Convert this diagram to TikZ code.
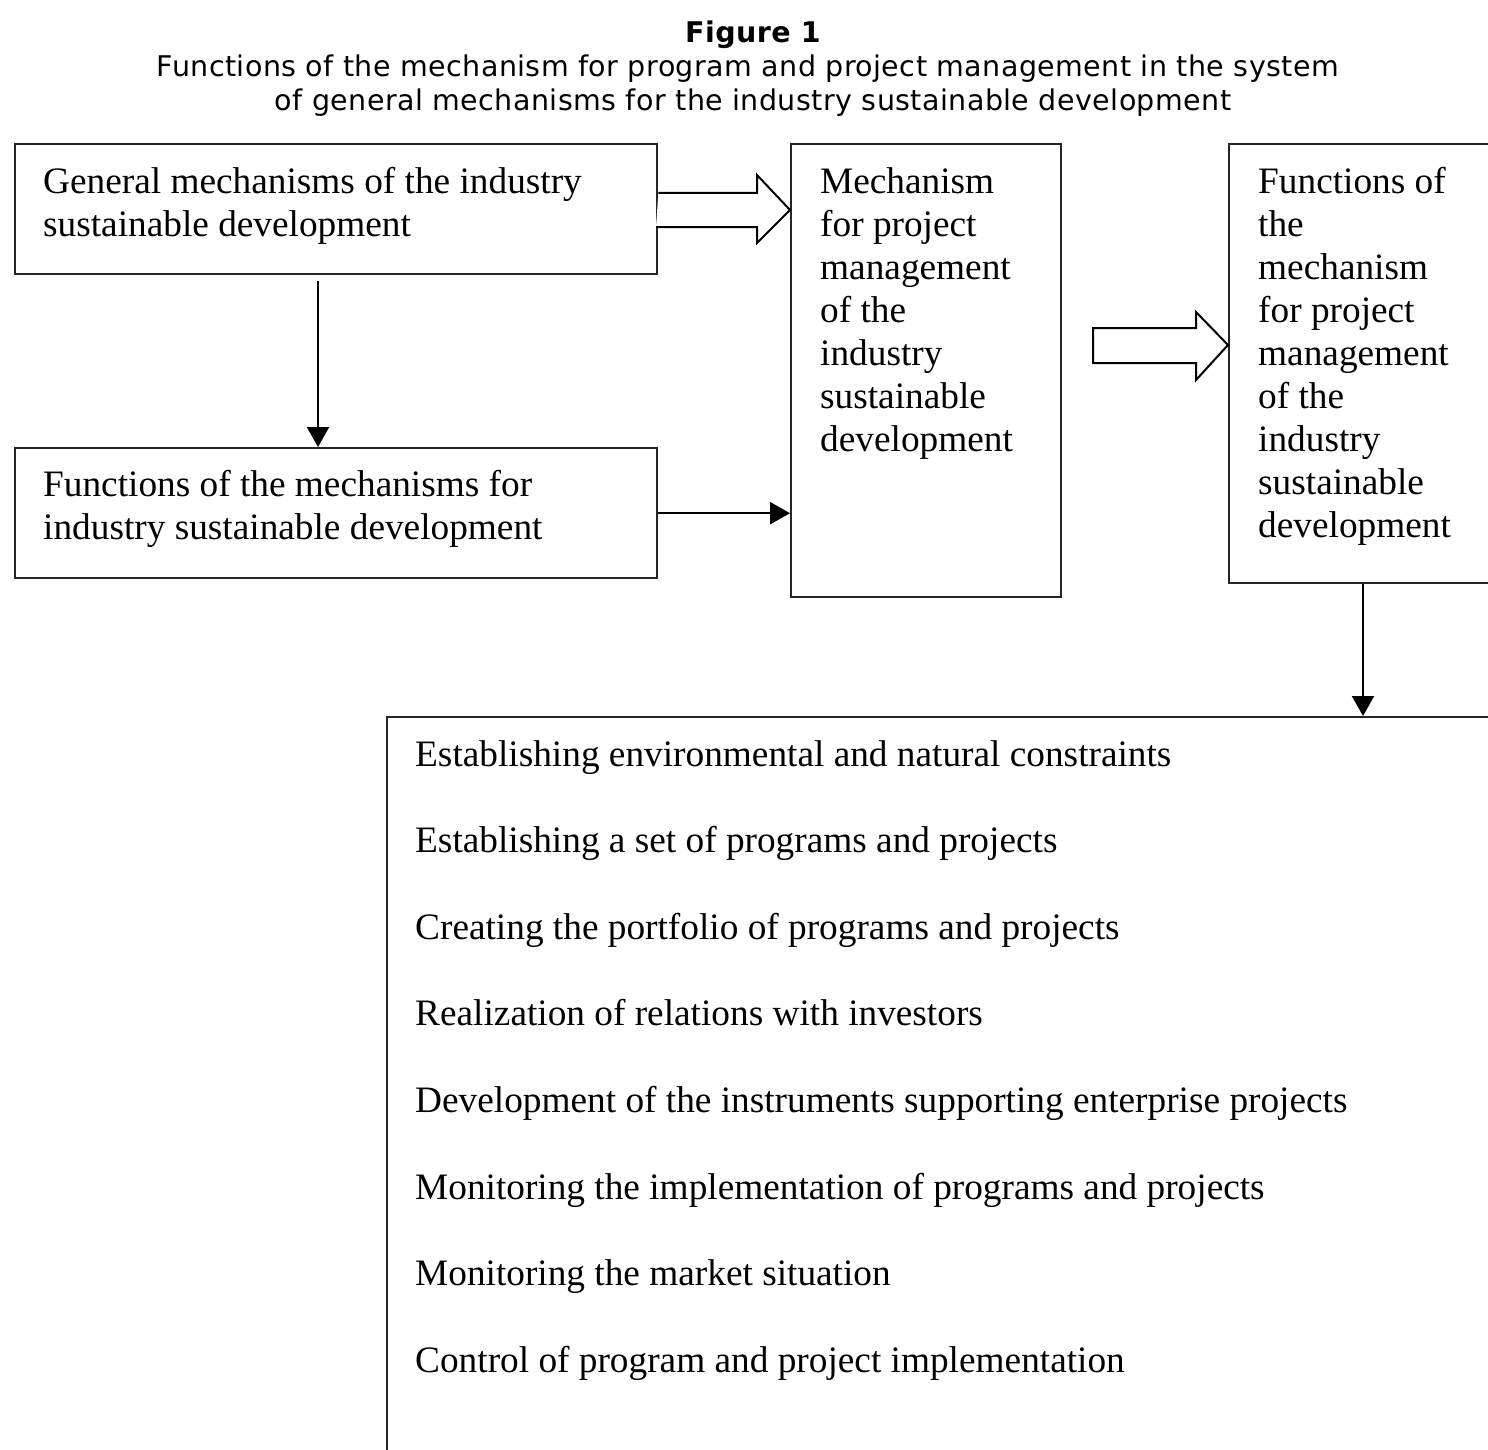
\documentclass[tikz,border=0pt]{standalone}
\usepackage{fontspec}
\setmainfont{Liberation Serif}
\newfontfamily\titlefont[LetterSpace=1.5]{DejaVu Sans}
\usetikzlibrary{calc,arrows.meta}
\begin{document}
\begin{tikzpicture}[x=1pt,y=-1pt,
  box/.style={draw=black!85, line width=2.4pt, anchor=north west, inner sep=0pt},
  boxtext/.style={anchor=north west, inner sep=0pt, align=left, font=\fontsize{37.3}{43}\selectfont},
  arr/.style={draw=black, line width=2.2pt, -{Triangle[length=20pt,width=22pt]}},
  hollow/.style={draw=black, line width=2pt, fill=white, line join=miter},
  ttl/.style={inner sep=0pt, align=center}]
\useasboundingbox (0,0) rectangle (1488,1450);
\begin{scope}
\clip (0,0) rectangle (1488,1450);
% title
\node[ttl, font=\titlefont\bfseries\fontsize{28.5}{34}\selectfont, anchor=base] (fig) at (753,43) {Figure 1};
\node[ttl, font=\titlefont\fontsize{28.5}{34}\selectfont, anchor=base] (cap1) at (748,77) {Functions of the mechanism for program and project management in the system};
\node[ttl, font=\titlefont\fontsize{28.5}{34}\selectfont, anchor=base] (cap2) at (753,111) {of general mechanisms for the industry sustainable development};
% boxes
\node[box, minimum width=642pt, minimum height=130pt] (gen) at (14,143) {};
\node[box, minimum width=642pt, minimum height=130pt] (fun) at (14,447) {};
\node[box, minimum width=270pt, minimum height=453pt] (mech) at (790,143) {};
\node[box, minimum width=300pt, minimum height=439pt] (fmech) at (1228,143) {};
\node[box, minimum width=1200pt, minimum height=800pt] (list) at (386,716) {};
% texts
\node[boxtext] (gent) at (43,167) {General mechanisms of the industry\\sustainable development};
\node[boxtext] (funt) at (43,470) {Functions of the mechanisms for\\industry sustainable development};
\node[boxtext] (mecht) at (820,167) {Mechanism\\for project\\management\\of the\\industry\\sustainable\\development};
\node[boxtext] (fmecht) at (1258,167) {Functions of\\the\\mechanism\\for project\\management\\of the\\industry\\sustainable\\development};
\node[boxtext, font=\fontsize{37.3}{86.6}\selectfont] (listt) at (415,740) {Establishing environmental and natural constraints\\
Establishing a set of programs and projects\\
Creating the portfolio of programs and projects\\
Realization of relations with investors\\
Development of the instruments supporting enterprise projects\\
Monitoring the implementation of programs and projects\\
Monitoring the market situation\\
Control of program and project implementation};
% arrows
\coordinate (d1s) at ($(gen.south west)+(304,6)$);
\draw[arr] (d1s) -- (d1s |- fun.north);
\draw[arr] (fun.east) -- (fun.east -| mech.west);
\coordinate (d2s) at (1363,582);
\draw[arr] (d2s |- fmech.south) -- (d2s |- list.north);
% hollow block arrows
\coordinate (h1) at (gen.east |- 0,210);
\draw[hollow] (h1) ++(0,-17) -- (757,193) -- (757,175) -- (790,210) -- (757,243) -- (757,227) -- (656,227);
\coordinate (h2t) at (mech.east |- 0,345);
\draw[hollow] (1093,328) -- (1196,328) -- (1196,312) -- (1228,345) -- (1196,380) -- (1196,363) -- (1093,363) -- cycle;
\end{scope}
\end{tikzpicture}
\end{document}
